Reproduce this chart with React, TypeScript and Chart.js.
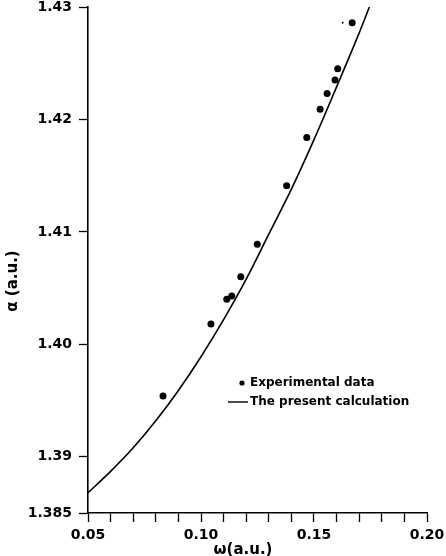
import React, { useEffect, useRef } from 'react';
import { Chart, registerables } from 'chart.js';

Chart.register(...registerables);

// Experimental data (omega, alpha) in a.u.
const expX = [0.0832, 0.1044, 0.1114, 0.1136, 0.1176, 0.1249, 0.1379, 0.1468, 0.1527, 0.1558, 0.1593, 0.1605, 0.1669];
const expY = [1.3954, 1.4018, 1.4040, 1.4043, 1.4060, 1.4089, 1.4141, 1.4184, 1.4209, 1.4223, 1.4235, 1.4245, 1.4286];

// The present calculation (curve)
const calcX = [0.05, 0.06, 0.07, 0.08, 0.09, 0.10, 0.11, 0.12, 0.13, 0.14, 0.15, 0.16, 0.17, 0.1745];
const calcY = [1.3868, 1.3887, 1.3908, 1.3932, 1.3959, 1.3989, 1.4022, 1.4058, 1.4098, 1.4138, 1.4182, 1.4229, 1.4277, 1.4300];

// small stray mark near the top
const markX = [0.1627];
const markY = [1.4286];

const xTicks = [0.05, 0.06, 0.07, 0.08, 0.09, 0.10, 0.11, 0.12, 0.13, 0.14, 0.15, 0.16, 0.17, 0.18, 0.19, 0.20];
const xTickLabels = ['0.05', '', '', '', '', '0.10', '', '', '', '', '0.15', '', '', '', '', '0.20'];
const yTicks = [1.385, 1.39, 1.40, 1.41, 1.42, 1.43];
const yTickLabels = ['1.385', '1.39', '1.40', '1.41', '1.42', '1.43'];

const seriesLabels = ['Experimental data', 'The present calculation'];
const xTitle = 'ω(a.u.)';
const yTitle = 'α (a.u.)';

const FONT = '"DejaVu Sans", sans-serif';

const annotationPlugin = {
  id: 'innerLegendAndTitles',
  afterDraw(chart: any) {
    const { ctx, chartArea } = chart;
    const x0 = chartArea.left;
    ctx.save();
    ctx.fillStyle = '#000';
    ctx.strokeStyle = '#000';
    ctx.font = `bold 12px ${FONT}`;
    ctx.textBaseline = 'middle';
    ctx.textAlign = 'left';
    // legend row 1
    const r1y = 383;
    ctx.beginPath();
    ctx.arc(x0 + 154, r1y, 2.6, 0, Math.PI * 2);
    ctx.fill();
    ctx.fillText(chart.data.datasets[0].label, x0 + 162, r1y);
    // legend row 2
    const r2y = 402;
    ctx.lineWidth = 1.4;
    ctx.beginPath();
    ctx.moveTo(x0 + 140, r2y);
    ctx.lineTo(x0 + 160, r2y);
    ctx.stroke();
    ctx.fillText(chart.data.datasets[1].label, x0 + 162, r2y);

    // axis titles
    ctx.font = `bold 15px ${FONT}`;
    ctx.textAlign = 'center';
    ctx.fillText(xTitle, 243, 550);
    ctx.translate(13, 281);
    ctx.rotate(-Math.PI / 2);
    ctx.fillText(yTitle, 0, 0);
    ctx.restore();
  },
};

export default function App() {
  const ref = useRef<HTMLCanvasElement | null>(null);

  useEffect(() => {
    if (!ref.current) return;
    const chart = new Chart(ref.current, {
      type: 'scatter',
      data: {
        datasets: [
          {
            label: seriesLabels[0],
            data: expX.map((x, i) => ({ x, y: expY[i] })),
            pointRadius: 3.5,
            pointBackgroundColor: '#000',
            pointBorderColor: '#000',
            pointBorderWidth: 0,
            showLine: false,
          },
          {
            label: seriesLabels[1],
            data: calcX.map((x, i) => ({ x, y: calcY[i] })),
            showLine: true,
            borderColor: '#000',
            borderWidth: 1.6,
            pointRadius: 0,
            tension: 0.4,
            cubicInterpolationMode: 'monotone',
            fill: false,
          },
          {
            label: '',
            data: markX.map((x, i) => ({ x, y: markY[i] })),
            pointRadius: 0.9,
            pointBackgroundColor: '#000',
            pointBorderWidth: 0,
            showLine: false,
          },
        ],
      } as any,
      options: {
        animation: false,
        responsive: false,
        maintainAspectRatio: false,
        layout: { padding: { top: 7, right: 19, left: 0, bottom: 0 } },
        plugins: {
          legend: { display: false },
          tooltip: { enabled: false },
        },
        scales: {
          x: {
            type: 'linear',
            min: 0.05,
            max: 0.2,
            afterBuildTicks: (s: any) => {
              s.ticks = xTicks.map((v) => ({ value: v }));
            },
            afterFit: (s: any) => {
              s.height = 43;
              s.paddingLeft = 0;
              s.paddingRight = 0;
            },
            ticks: {
              autoSkip: false,
              maxRotation: 0,
              padding: 5,
              color: '#000',
              font: { family: FONT, size: 14, weight: 'bold' },
              callback: (_v: any, i: number) => xTickLabels[i],
            },
            grid: {
              drawOnChartArea: false,
              drawTicks: true,
              tickLength: 9,
              tickColor: '#000',
              tickWidth: 1.3,
            },
            border: { display: true, color: '#000', width: 1.6 },
            title: { display: false },
          },
          y: {
            type: 'linear',
            min: 1.385,
            max: 1.43,
            afterBuildTicks: (s: any) => {
              s.ticks = yTicks.map((v) => ({ value: v }));
            },
            afterFit: (s: any) => {
              s.width = 88;
              s.paddingTop = 0;
              s.paddingBottom = 0;
            },
            ticks: {
              autoSkip: false,
              padding: 7,
              color: '#000',
              font: { family: FONT, size: 14, weight: 'bold' },
              callback: (_v: any, i: number) => yTickLabels[i],
            },
            grid: {
              drawOnChartArea: false,
              drawTicks: true,
              tickLength: 9,
              tickColor: '#000',
              tickWidth: 1.3,
            },
            border: { display: true, color: '#000', width: 1.6 },
            title: { display: false },
          },
        },
      } as any,
      plugins: [annotationPlugin],
    });
    return () => chart.destroy();
  }, []);

  return (
    <div style={{ position: 'absolute', left: 0, top: 0, width: 446, height: 556, background: '#fff' }}>
      <canvas ref={ref} width={446} height={556} style={{ width: 446, height: 556 }} />
    </div>
  );
}
